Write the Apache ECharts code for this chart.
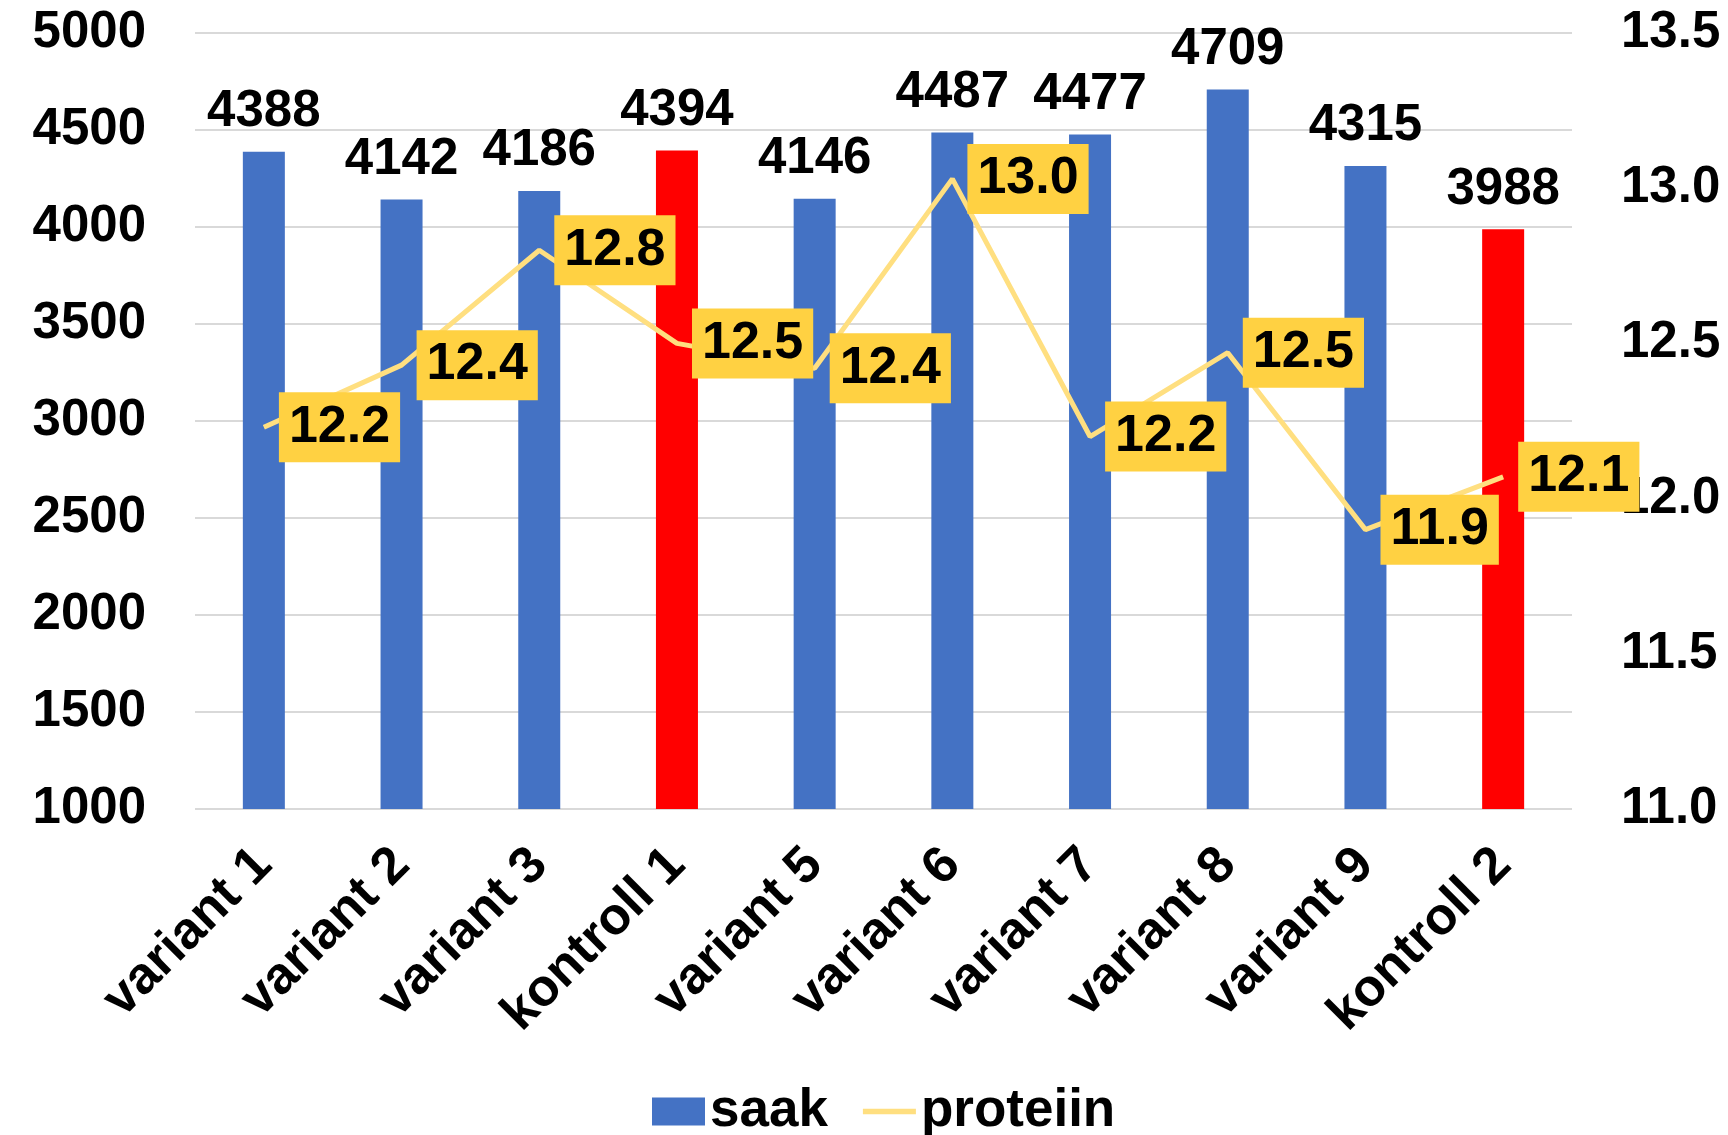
<!DOCTYPE html>
<html>
<head>
<meta charset="utf-8">
<title>saak / proteiin</title>
<script src="https://cdn.jsdelivr.net/npm/echarts@6/dist/echarts.min.js"></script>
<style>
  html, body { margin: 0; padding: 0; background: #fff; }
  #chart { width: 1728px; height: 1135px; }
</style>
</head>
<body>
<div id="chart"></div>
<script>
  const categories = ['variant 1', 'variant 2', 'variant 3', 'kontroll 1', 'variant 5',
    'variant 6', 'variant 7', 'variant 8', 'variant 9', 'kontroll 2']
  const saak = [4388, 4142, 4186, 4394, 4146, 4487, 4477, 4709, 4315, 3988]
  const proteiin = [12.23, 12.43, 12.80, 12.50, 12.42, 13.03, 12.20, 12.47, 11.90, 12.07]

  const font = "'Liberation Sans', Arial, sans-serif"
  const blue = '#4472C4'
  const red = '#FF0000'
  const lineColor = '#FFDF80'
  const boxColor = '#FFD142'

  const chart = echarts.init(document.getElementById('chart'))

  chart.setOption({
    animation: false,
    textStyle: { fontFamily: font },
    grid: {
      left: 195,
      right: 156,
      top: 33,
      bottom: 326
    },
    legend: {
      top: 1080,
      left: 647,
      itemWidth: 53,
      itemHeight: 28,
      itemGap: 35,
      textStyle: { fontSize: 53, fontWeight: 'bold', color: '#000', fontFamily: font },
      data: [
        { name: 'saak', icon: 'rect', itemStyle: { color: blue } },
        { name: 'proteiin', icon: 'path://M0,0 H56 V6 H0 Z', itemStyle: { color: lineColor } }
      ]
    },
    xAxis: {
      type: 'category',
      data: categories,
      axisLine: { show: false },
      axisTick: { show: false },
      axisLabel: {
        rotate: 45,
        margin: 48,
        fontSize: 52,
        fontWeight: 'bold',
        color: '#000',
        interval: 0
      }
    },
    yAxis: [{
      type: 'value',
      min: 1000,
      max: 5000,
      interval: 500,
      axisLine: { show: false },
      axisTick: { show: false },
      splitLine: { lineStyle: { color: '#D9D9D9', width: 2 } },
      axisLabel: {
        fontSize: 51, fontWeight: 'bold', color: '#000', margin: 49,
        formatter: v => String(v)
      }
    }, {
      type: 'value',
      min: 11,
      max: 13.5,
      interval: 0.5,
      position: 'right',
      axisLine: { show: false },
      axisTick: { show: false },
      splitLine: { show: false },
      axisLabel: {
        fontSize: 51, fontWeight: 'bold', color: '#000', margin: 49,
        formatter: v => v.toFixed(1)
      }
    }],
    series: [{
      name: 'saak',
      type: 'bar',
      barWidth: 42,
      data: saak.map((v, i) => ({
        value: v,
        itemStyle: { color: categories[i].startsWith('kontroll') ? red : blue }
      })),
      itemStyle: { color: blue },
      label: {
        show: true,
        position: 'top',
        distance: 14,
        fontSize: 51,
        fontWeight: 'bold',
        color: '#000'
      }
    }, {
      name: 'proteiin',
      type: 'line',
      yAxisIndex: 1,
      data: proteiin,
      color: lineColor,
      symbol: 'circle',
      symbolSize: 0.1,
      showSymbol: true,
      itemStyle: { color: lineColor },
      lineStyle: { color: lineColor, width: 5 },
      z: 5,
      label: {
        show: true,
        position: 'right',
        distance: 15,
        fontSize: 52,
        lineHeight: 52,
        fontWeight: 'bold',
        color: '#000',
        backgroundColor: boxColor,
        padding: [9, 10, 9, 10],
        formatter: p => p.value.toFixed(1)
      }
    }]
  })
</script>
</body>
</html>
